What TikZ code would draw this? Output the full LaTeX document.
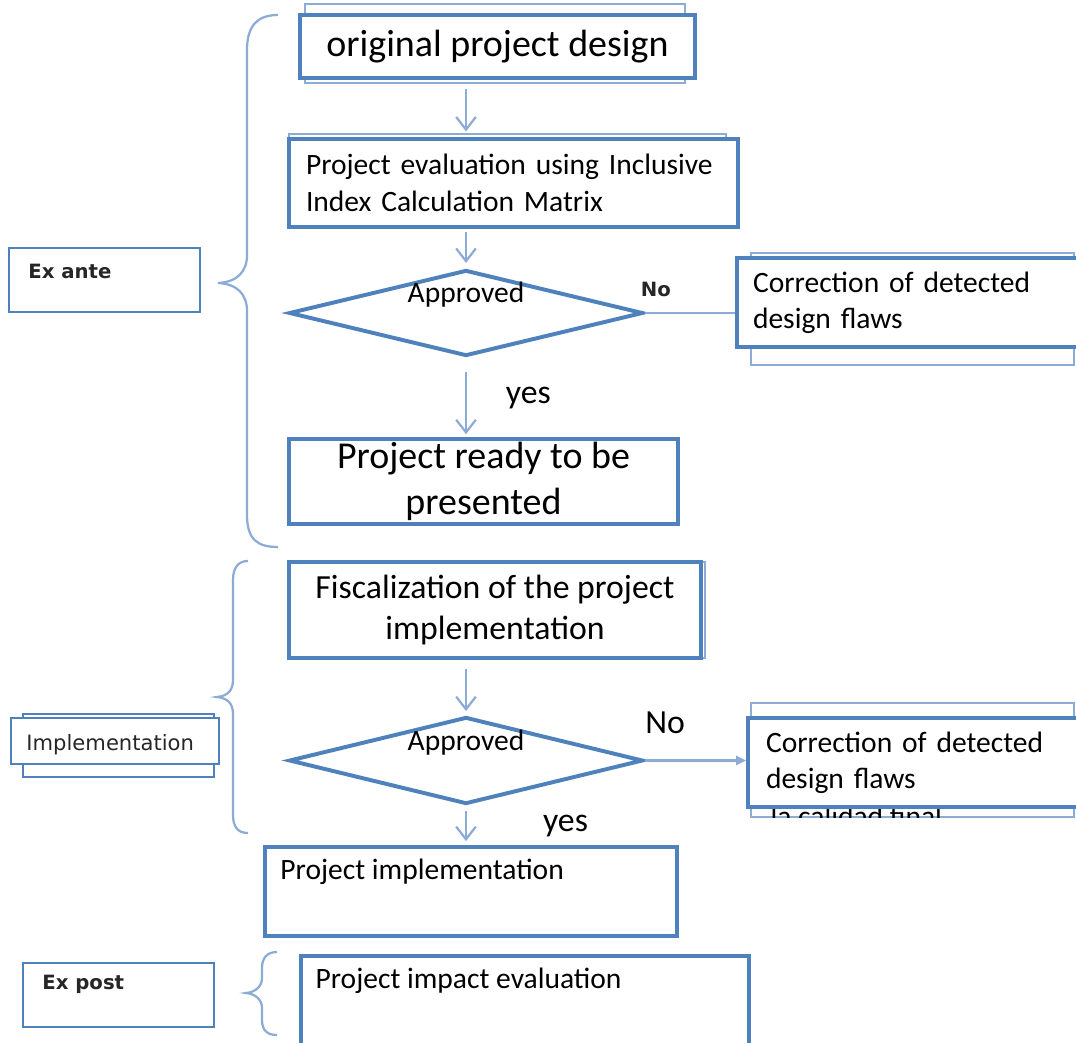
\documentclass[tikz,border=0pt]{standalone}
\usepackage{fontspec}
\setmainfont{Carlito}
\newfontfamily\tagfont{DejaVu Sans}
\usetikzlibrary{arrows.meta,shapes.geometric}
\definecolor{boxblue}{RGB}{79,129,189}
\definecolor{lineblue}{RGB}{140,172,214}
\def\pxu{0.0125cm}
\tikzset{
	box/.style={draw=boxblue, line width=1.4pt, fill=white, inner sep=0pt},
	shadowbox/.style={draw=lineblue, line width=0.7pt},
	tagbox/.style={draw=boxblue, line width=0.8pt, fill=white, inner sep=0pt},
	tagtext/.style={font=\tagfont\fontsize{7}{8}\selectfont, text=black!85, inner sep=0pt},
	decision/.style={diamond, draw=boxblue, line width=1.4pt, fill=white, inner sep=0pt, minimum width=354*\pxu},
	flow/.style={draw=lineblue, line width=0.8pt, -{Straight Barb[length=4.5pt,width=7pt]}},
	brace/.style={draw=lineblue, line width=0.8pt},
	small/.style={font=\fontsize{10.5}{12.7}\selectfont, inner sep=0pt, text=black},
	big/.style={font=\fontsize{12}{14}\selectfont, inner sep=0pt, text=black}
}

\begin{document}
\begin{tikzpicture}[x=\pxu, y=-\pxu]
				\useasboundingbox (0,0) rectangle (1076,1042);
				
				% copies lying behind the boxes
				\draw[shadowbox] (305,4) rectangle (685,83);
				\draw[shadowbox] (289,134) rectangle (726,222);
				\draw[shadowbox] (751,253) rectangle (1074,365);
				\draw[shadowbox] (293,562) rectangle (705,658);
				\draw[shadowbox] (751,703) rectangle (1074,817);
				\draw[tagbox] (23,714) rectangle (214,777);
				\begin{scope}
					\clip (751,703) rectangle (1074,817);
					\node[small, anchor=base west] (remnant) at (770,826) {la calidad final};
				\end{scope}
				
				% ex ante
				\node[box, minimum width=395*\pxu, minimum height=63*\pxu, font=\fontsize{13.5}{16}\selectfont] (design) at (497.5,46.5) {original project design};
				\node[box, small, minimum width=449*\pxu, minimum height=88*\pxu, text width=415*\pxu, align=left, font=\fontsize{10.5}{13.2}\selectfont] (evaluation) at (513.5,183) {Project evaluation using Inclusive\\Index Calculation Matrix};
				\node[decision, minimum height=86*\pxu] (approved1) at (466,313) {};
				\node[small, anchor=base] (approvedtext1) at ([yshift=3.9pt]approved1.center) {Approved};
				\node[box, small, minimum width=353*\pxu, minimum height=89*\pxu, text width=321*\pxu, align=left] (correction1) at (913.5,302.5) {Correction of detected\\design flaws};
				\node[box, minimum width=389*\pxu, minimum height=85*\pxu, align=center, font=\fontsize{13.5}{16.3}\selectfont] (ready) at (483.5,481.5) {Project ready to be\\presented};
				
				\draw[flow, shorten <=3.2pt, shorten >=2pt] (approved1.north |- design.south) -- (approved1.north |- evaluation.north);
				\draw[flow, shorten <=1pt, shorten >=1.8pt] (approved1.north |- evaluation.south) -- (approved1.north);
				\draw[lineblue, line width=0.8pt] (approved1.east) -- node[pos=.12, anchor=base, yshift=6pt, tagtext, font=\tagfont\bfseries\fontsize{7}{8}\selectfont] (no1) {No} (approved1.east -| correction1.west);
				\draw[flow, shorten <=5pt, shorten >=1pt] (approved1.south) -- node[pos=.57, anchor=base west, xshift=13.8pt, big] (yes1) {yes} (approved1.south |- ready.north);
				
				\node[tagbox, minimum width=191*\pxu, minimum height=64*\pxu] (exante) at (104.5,280) {};
				\node[tagtext, font=\tagfont\bfseries\fontsize{7}{8}\selectfont, anchor=base west] (exantetext) at ([xshift=7.1pt, yshift=0.7pt]exante.west) {Ex ante};
				\draw[brace] (278,15) .. controls (258,15) and (247,25) .. (247,50) -- (247,255) .. controls (247,272) and (237,282) .. (218,283) .. controls (237,284) and (247,294) .. (247,311) -- (247,515) .. controls (247,540) and (258,547) .. (278,547);
				
				% implementation
				\node[box, big, minimum width=412*\pxu, minimum height=96*\pxu, align=center, font=\fontsize{12}{14.5}\selectfont] (fiscal) at (495,610) {Fiscalization of the project\\implementation};
				\node[decision, minimum height=87*\pxu] (approved2) at (466,760.5) {};
				\node[small, anchor=base] (approvedtext2) at ([yshift=3.7pt]approved2.center) {Approved};
				\node[box, small, minimum width=342*\pxu, minimum height=89*\pxu, text width=306*\pxu, align=left] (correction2) at (919,762.5) {Correction of detected\\design flaws};
				\node[box, minimum width=412*\pxu, minimum height=89*\pxu] (implementation) at (471,891.5) {};
				\node[small, anchor=base west] (implementationtext) at ([xshift=6pt, yshift=4.1pt]implementation.west) {Project implementation};
				
				\draw[flow, shorten <=3.2pt, shorten >=1.4pt] (approved2.north |- fiscal.south) -- (approved2.north);
				\draw[lineblue, line width=0.8pt, -{Triangle[length=3.5pt,width=3.2pt]}] (approved2.east) -- node[pos=.2, anchor=base, yshift=9.6pt, big] (no2) {No} (approved2.east -| correction2.west);
				\draw[flow, shorten <=1.8pt, shorten >=1.4pt] (approved2.south) -- node[pos=.65, anchor=base west, xshift=27pt, big] (yes2) {yes} (approved2.south |- implementation.north);
				
				\node[tagbox, minimum width=208*\pxu, minimum height=46*\pxu] (implement) at (115,741) {};
				\node[tagtext, font=\tagfont\fontsize{7.5}{9}\selectfont, anchor=base west] (implementtext) at ([xshift=5.7pt, yshift=-3.2pt]implement.west) {Implementation};
				\draw[brace] (248,561) .. controls (238,561) and (233,568) .. (233,580) -- (233,680) .. controls (233,690) and (228,696) .. (217,697) .. controls (228,698) and (233,704) .. (233,714) -- (233,815) .. controls (233,827) and (238,833) .. (248,833);
				
				% ex post
				\node[box, minimum width=448*\pxu, minimum height=98*\pxu] (impact) at (525,1005) {};
				\node[small, anchor=base west] (impacttext) at ([xshift=5.7pt, yshift=6pt]impact.west) {Project impact evaluation};
				\node[tagbox, minimum width=191*\pxu, minimum height=64*\pxu] (expost) at (118.5,995) {};
				\node[tagtext, font=\tagfont\bfseries\fontsize{7}{8}\selectfont, anchor=base west] (exposttext) at ([xshift=7.1pt, yshift=1.8pt]expost.west) {Ex post};
				\draw[brace] (277,952) .. controls (267,952) and (262,958) .. (262,968) -- (262,978) .. controls (262,986) and (256,992) .. (246,993) .. controls (256,994) and (262,1000) .. (262,1008) -- (262,1020) .. controls (262,1030) and (267,1035) .. (277,1035);
\end{tikzpicture}
\end{document}
